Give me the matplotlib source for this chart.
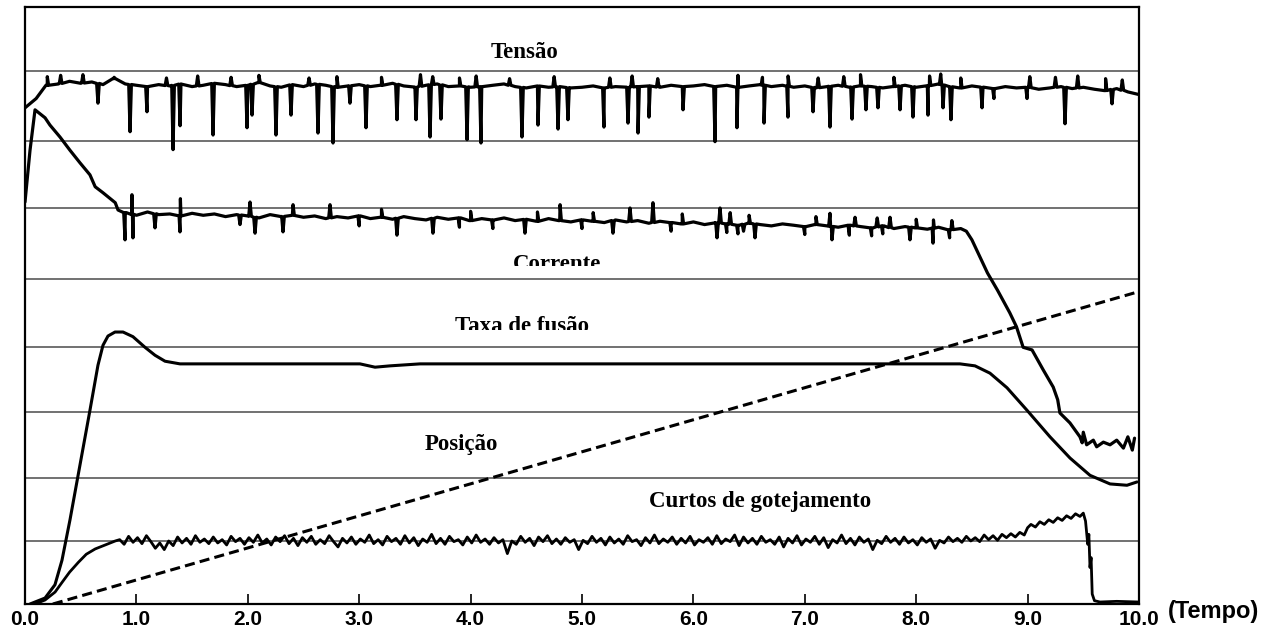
import numpy as np
import matplotlib.pyplot as plt
from matplotlib.transforms import Bbox, TransformedBbox

# ---- values (x = tempo 0..10, y = arbitrary panel units 0..9)
grid_levels = [0.95, 1.90, 2.89, 3.87, 4.90, 5.97, 6.98, 8.04]
tick_vals = [0, 1, 2, 3, 4, 5, 6, 7, 8, 9, 10]
tick_labels = ["0.0", "1.0", "2.0", "3.0", "4.0", "5.0", "6.0", "7.0", "8.0", "9.0", "10.0"]

# Tensao: base trace every 0.1 s, plus downward and upward spikes
tensao_base_x = [round(0.1 * i, 1) for i in range(101)]
tensao_base_y = [7.48, 7.62, 7.82, 7.84, 7.88, 7.85, 7.87, 7.83, 7.92, 7.84,
                 7.82, 7.80, 7.83, 7.81, 7.84, 7.80, 7.82, 7.85, 7.83, 7.80,
                 7.82, 7.86, 7.81, 7.79, 7.83, 7.80, 7.84, 7.82, 7.79, 7.81,
                 7.83, 7.80, 7.82, 7.85, 7.81, 7.79, 7.82, 7.84, 7.80, 7.81,
                 7.79, 7.80, 7.82, 7.84, 7.80, 7.78, 7.81, 7.79, 7.80, 7.78,
                 7.79, 7.81, 7.78, 7.80, 7.79, 7.80, 7.81, 7.79, 7.82, 7.80,
                 7.81, 7.83, 7.80, 7.82, 7.79, 7.81, 7.83, 7.80, 7.82, 7.79,
                 7.81, 7.78, 7.80, 7.82, 7.79, 7.81, 7.80, 7.78, 7.80, 7.82,
                 7.79, 7.81, 7.84, 7.80, 7.78, 7.81, 7.79, 7.77, 7.80, 7.78,
                 7.79, 7.76, 7.78, 7.80, 7.77, 7.79, 7.76, 7.74, 7.77, 7.72,
                 7.68]
tensao_dip_x = [0.655, 0.943, 1.095, 1.329, 1.392, 1.688, 1.993, 2.038, 2.253, 2.388,
                2.630, 2.765, 2.917, 3.061, 3.339, 3.510, 3.636, 3.734, 3.968, 4.093,
                4.461, 4.605, 4.785, 4.874, 5.197, 5.413, 5.503, 5.601, 5.907, 6.194,
                6.391, 6.634, 6.849, 7.074, 7.226, 7.424, 7.549, 7.657, 7.855, 7.971,
                8.106, 8.241, 8.312, 8.591, 8.698, 8.995, 9.336, 9.758]
tensao_dip_y = [7.55, 7.12, 7.42, 6.85, 7.21, 7.07, 7.18, 7.37, 7.07, 7.37,
                7.10, 6.95, 7.55, 7.18, 7.30, 7.30, 7.04, 7.31, 7.00, 6.95,
                7.04, 7.22, 7.16, 7.30, 7.19, 7.25, 7.10, 7.34, 7.45, 6.97,
                7.18, 7.25, 7.34, 7.42, 7.19, 7.31, 7.45, 7.48, 7.45, 7.34,
                7.37, 7.48, 7.30, 7.48, 7.62, 7.62, 7.24, 7.54]
tensao_up_x = [0.20, 0.32, 0.52, 0.80, 1.27, 1.55, 1.85, 2.10, 2.55, 2.80, 3.20, 3.55,
               3.66, 3.90, 4.05, 4.35, 4.75, 5.25, 5.45, 5.68, 6.40, 6.62, 6.85, 7.12,
               7.35, 7.50, 7.80, 8.12, 8.22, 8.40, 9.02, 9.25, 9.45, 9.70, 9.85]
tensao_up_y = [7.95, 7.97, 7.98, 7.94, 7.93, 7.96, 7.94, 7.97, 7.93, 7.95, 7.94, 7.98,
               7.95, 7.93, 7.96, 7.92, 7.95, 7.93, 7.96, 7.92, 7.97, 7.94, 7.96, 7.93,
               7.95, 7.98, 7.94, 7.96, 7.99, 7.93, 7.95, 7.94, 7.96, 7.92, 7.90]

# Corrente: start transient, noisy plateau, fall and noisy tail
corrente_start_x = [0.0, 0.045, 0.09, 0.18, 0.224, 0.314, 0.404, 0.494, 0.583, 0.63, 0.70, 0.81, 0.835]
corrente_start_y = [6.06, 6.84, 7.45, 7.33, 7.22, 7.04, 6.84, 6.65, 6.47, 6.29, 6.20, 6.05, 5.94]
corrente_plat_x = [round(0.9 + 0.1 * i, 1) for i in range(76)]
corrente_plat_y = [5.90, 5.86, 5.91, 5.87, 5.88, 5.85, 5.89, 5.86, 5.88, 5.84,
                   5.87, 5.85, 5.82, 5.87, 5.84, 5.86, 5.83, 5.85, 5.81, 5.84,
                   5.82, 5.85, 5.81, 5.83, 5.80, 5.84, 5.81, 5.79, 5.83, 5.80,
                   5.82, 5.78, 5.81, 5.79, 5.82, 5.78, 5.80, 5.77, 5.81, 5.78,
                   5.76, 5.79, 5.77, 5.75, 5.79, 5.76, 5.78, 5.74, 5.77, 5.75,
                   5.73, 5.76, 5.72, 5.75, 5.73, 5.71, 5.74, 5.72, 5.70, 5.73,
                   5.71, 5.69, 5.72, 5.70, 5.68, 5.71, 5.69, 5.67, 5.70, 5.66,
                   5.69, 5.67, 5.65, 5.68, 5.64, 5.66]
corrente_spike_x = [0.898, 0.969, 1.167, 1.391, 1.930, 2.065, 2.316, 3.339, 3.662, 4.488,
                    5.278, 6.212, 6.553, 7.244, 7.944, 8.151,
                    3.0, 3.9, 4.2, 5.0, 5.8, 6.30, 6.40, 6.45, 7.0, 7.40, 7.60, 7.70, 8.30,
                    0.960, 1.395, 2.020, 2.406, 2.738, 4.803, 5.431, 5.637, 6.239, 7.226,
                    7.451, 7.765, 8.155,
                    3.2, 4.0, 4.6, 5.1, 5.9, 6.33, 6.50, 7.1, 7.65, 8.0, 8.32]
corrente_spike_y = [5.49, 5.52, 5.67, 5.61, 5.72, 5.59, 5.61, 5.56, 5.59, 5.59,
                    5.59, 5.52, 5.52, 5.49, 5.49, 5.44,
                    5.70, 5.68, 5.66, 5.66, 5.62, 5.60, 5.58, 5.62, 5.57, 5.56, 5.55, 5.58, 5.52,
                    6.17, 6.11, 6.06, 6.02, 6.02, 6.02, 5.97, 6.05, 5.97, 5.89,
                    5.83, 5.83, 5.79,
                    5.95, 5.92, 5.91, 5.90, 5.88, 5.90, 5.86, 5.84, 5.82, 5.80, 5.78]
corrente_end_x = [8.45, 8.50, 8.64, 8.73, 8.84, 8.90, 8.96, 9.04, 9.14, 9.23, 9.27, 9.29, 9.38,
                  9.47, 9.49, 9.50, 9.53, 9.59, 9.62, 9.68, 9.74, 9.80, 9.86, 9.90, 9.94, 9.96]
corrente_end_y = [5.62, 5.49, 4.99, 4.73, 4.39, 4.18, 3.87, 3.83, 3.53, 3.27, 3.08, 2.88, 2.73,
                  2.52, 2.43, 2.59, 2.40, 2.47, 2.37, 2.44, 2.40, 2.47, 2.35, 2.52, 2.32, 2.50]

# Taxa de fusao (smooth)
taxa_x = [0.045, 0.18, 0.269, 0.332, 0.404, 0.494, 0.583, 0.655, 0.70, 0.745, 0.808, 0.88,
          0.969, 1.077, 1.167, 1.257, 1.391, 3.007, 3.142, 3.276, 3.546, 8.393, 8.528,
          8.662, 8.815, 8.995, 9.201, 9.381, 9.56, 9.74, 9.892, 9.982]
taxa_y = [0.00, 0.09, 0.29, 0.66, 1.27, 2.10, 2.92, 3.60, 3.90, 4.04, 4.10, 4.10,
          4.03, 3.87, 3.75, 3.66, 3.62, 3.62, 3.57, 3.59, 3.62, 3.62, 3.59,
          3.48, 3.26, 2.92, 2.52, 2.20, 1.94, 1.81, 1.79, 1.84]

# Posicao (straight dashed ramp)
posicao_x = [0.25, 10.0]
posicao_y = [0.0, 4.71]

# Curtos de gotejamento
curtos_start_x = [0.09, 0.18, 0.27, 0.33, 0.40, 0.48, 0.55, 0.63, 0.72, 0.81]
curtos_start_y = [0.00, 0.06, 0.18, 0.32, 0.48, 0.63, 0.75, 0.83, 0.89, 0.95]
curtos_plat_y = [0.97, 0.90, 1.02, 0.93, 1.00, 0.91, 1.03, 0.94, 0.84, 0.92, 0.82, 0.95, 0.88, 1.01, 0.92, 0.99, 0.90, 1.03, 0.93, 0.98, 0.91,
                 1.01, 0.92, 0.97, 0.89, 1.02, 0.94, 0.99, 0.90, 1.00, 0.93, 1.04, 0.92, 0.98, 0.89, 1.01, 0.94, 1.03, 0.91, 0.99, 0.88, 1.00,
                 0.93, 1.02, 0.90, 0.97, 0.91, 1.03, 0.94, 0.86, 0.99, 0.92, 1.01, 0.90, 0.98, 0.93, 1.04, 0.91, 0.97, 0.89, 1.02, 0.94, 0.99,
                 0.90, 1.03, 0.92, 1.00, 0.88, 0.98, 0.93, 1.05, 0.91, 0.99, 0.90, 1.02, 0.94, 0.97, 0.89, 1.01, 0.92, 1.04, 0.93, 0.98, 0.90,
                 1.00, 0.92, 0.97, 0.76, 0.95, 0.90, 1.02, 0.93, 0.99, 0.88, 1.01, 0.94, 1.03, 0.91, 0.98, 0.90, 1.00, 0.93, 0.97, 0.82, 0.96,
                 0.91, 1.02, 0.93, 0.99, 0.89, 1.01, 0.92, 0.98, 0.90, 1.03, 0.94, 0.97, 0.88, 1.00, 0.92, 1.04, 0.91, 0.98, 0.93, 1.01, 0.90,
                 0.99, 0.92, 1.02, 0.89, 0.97, 0.93, 1.00, 0.90, 1.03, 0.91, 0.98, 0.94, 1.04, 0.88, 1.01, 0.92, 0.99, 0.90, 1.02, 0.93, 0.97,
                 0.90, 1.01, 0.86, 0.99, 0.92, 1.03, 0.89, 0.98, 0.93, 1.02, 0.90, 1.00, 0.85, 0.97, 0.92, 1.04, 0.91, 0.99, 0.89, 1.01, 0.93,
                 0.98, 0.82, 0.96, 0.91, 1.02, 0.93, 0.99, 0.90, 1.01, 0.92, 0.97, 0.89, 1.00, 0.93, 0.98, 0.84, 0.96, 0.92, 1.01, 0.94, 0.99,
                 0.93, 1.02, 0.95, 1.00, 0.94, 1.04, 0.97, 1.03, 0.96, 1.05]
curtos_plat_x = [round(0.85 + 0.04 * i, 2) for i in range(len(curtos_plat_y))]
curtos_end_x = [8.81, 8.85, 8.89, 8.93, 8.97, 9.00, 9.03, 9.07, 9.11, 9.15, 9.19, 9.23, 9.27, 9.31,
                9.35, 9.39, 9.43, 9.47, 9.50, 9.52, 9.54, 9.55, 9.56, 9.57, 9.58, 9.60, 9.65, 9.80, 10.0]
curtos_end_y = [1.00, 1.06, 1.01, 1.08, 1.04, 1.15, 1.20, 1.16, 1.24, 1.20, 1.27, 1.23, 1.30, 1.26,
                1.33, 1.29, 1.36, 1.32, 1.37, 1.25, 0.90, 1.05, 0.55, 0.70, 0.15, 0.05, 0.03, 0.04, 0.03]


def with_spikes(bx, by, sx, sy, w=0.012):
    pts = list(zip(bx, by))
    for x, y in zip(sx, sy):
        b = float(np.interp(x, bx, by))
        pts += [(x - w, b), (x, y), (x + w, b)]
    pts.sort()
    arr = np.array(pts)
    return arr[:, 0], arr[:, 1]


fig = plt.figure(figsize=(12.75, 6.29), dpi=100)
ax = fig.add_axes([25 / 1275, 25 / 629, 1114 / 1275, 597 / 629])
ax.set_xlim(0, 10)
ax.set_ylim(0, 9)

for g in grid_levels:
    ax.axhline(g, color='#4a4a4a', lw=1.1, zorder=1)

line_kw = dict(color='black', solid_joinstyle='round', solid_capstyle='round', zorder=3)

# Tensao
tx, ty = with_spikes(tensao_base_x, tensao_base_y, tensao_dip_x + tensao_up_x,
                     tensao_dip_y + tensao_up_y)
ax.plot(tx, ty, lw=2.3, **line_kw)

# Corrente
px, py = with_spikes(corrente_plat_x, corrente_plat_y, corrente_spike_x, corrente_spike_y)
cx = np.concatenate([corrente_start_x, px, corrente_end_x])
cy = np.concatenate([corrente_start_y, py, corrente_end_y])
ax.plot(cx, cy, lw=2.3, **line_kw)

# Taxa de fusao
ax.plot(taxa_x, taxa_y, lw=2.2, **line_kw)

# Posicao
ax.plot(posicao_x, posicao_y, color='black', lw=2.2, linestyle=(0, (3.3, 1.7)), zorder=3)

# Curtos de gotejamento
kx = curtos_start_x + curtos_plat_x + curtos_end_x
ky = curtos_start_y + curtos_plat_y + curtos_end_y
ax.plot(kx, ky, lw=2.0, **line_kw)

for s in ax.spines.values():
    s.set_linewidth(1.6)
    s.set_color('black')

ax.set_yticks([])
ax.set_xticks(tick_vals)
ax.set_xticklabels(tick_labels, fontfamily='Liberation Sans', fontweight='bold', fontsize=15)
ax.tick_params(axis='x', direction='in', length=7, width=1.2, pad=4, colors='black')

serif = dict(family='Liberation Serif', fontweight='bold', fontsize=16.5,
             ha='center', va='baseline', zorder=4)
ax.text(4.48, 8.23, 'Tensão', **serif)
t_cor = ax.text(4.78, 5.04, 'Corrente', **serif)
t_cor.set_clip_box(TransformedBbox(Bbox([[0, 5.10], [10, 9]]), ax.transData))
t_cor.set_clip_on(True)
t_tax = ax.text(4.46, 4.10, 'Taxa de fusão', **serif)
t_tax.set_clip_box(TransformedBbox(Bbox([[0, 4.13], [10, 9]]), ax.transData))
t_tax.set_clip_on(True)
ax.text(3.92, 2.32, 'Posição', **serif)
ax.text(6.60, 1.46, 'Curtos de gotejamento', **serif)

ax.text(10.26, -0.12, '(Tempo)', fontfamily='Liberation Sans', fontweight='bold',
        fontsize=17, ha='left', va='center', clip_on=False)

fig.savefig('out.png', dpi=100)
